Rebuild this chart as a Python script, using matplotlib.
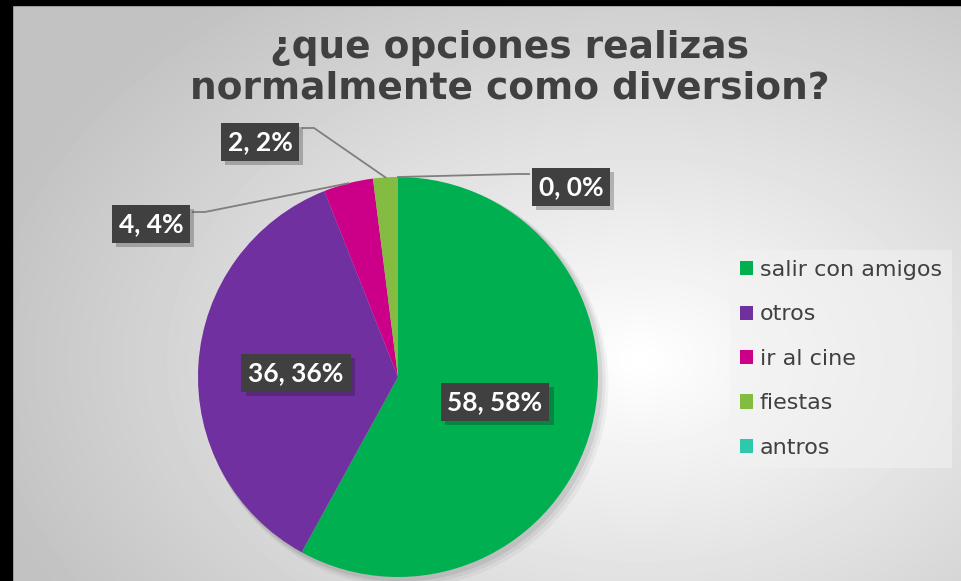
import matplotlib
matplotlib.use('Agg')
import matplotlib.pyplot as plt
import matplotlib.patheffects as pe
import numpy as np

# data
categories = ['salir con amigos', 'otros', 'ir al cine', 'fiestas', 'antros']
values = [58, 36, 4, 2, 0]
percents = [58, 36, 4, 2, 0]
colors = ['#00B050', '#7030A0', '#CC0088', '#84BC41', '#2EC8AA']
title = '¿que opciones realizas\nnormalmente como diversion?'

W, H = 961, 581
fig = plt.figure(figsize=(W / 100, H / 100), dpi=100)

# background: soft radial gradient
bg = fig.add_axes([0, 0, 1, 1])
yy, xx = np.mgrid[0:H, 0:W]
d = np.sqrt(((xx - 640) / 620.0) ** 2 + ((yy - 360) / 420.0) ** 2)
shade = np.clip(1.0 - 0.22 * d, 0.76, 1.0)
bg.imshow(shade, cmap='gray', vmin=0, vmax=1, extent=[0, W, H, 0], aspect='auto')
bg.set_xlim(0, W)
bg.set_ylim(H, 0)
bg.axis('off')
# black frame on top and left
bg.add_patch(plt.Rectangle((0, 0), W, 5, color='black'))
bg.add_patch(plt.Rectangle((0, 0), 12, H, color='black'))

fig.text(510 / W, 1 - 68 / H, title, ha='center', va='center', fontsize=27,
         fontweight='bold', color='#404040', linespacing=1.15,
         family='DejaVu Sans')

# pie: centre (398, 377) px, radius 200 px
cx, cy, r = 398, 377, 200
ax = fig.add_axes([(cx - r) / W, (H - cy - r) / H, 2 * r / W, 2 * r / H])
# soft shadow behind the pie
for k, a in [(7, 0.04), (5, 0.05), (3, 0.07)]:
    ax.add_patch(plt.Circle((k / r, -k / r), 1.0 + k / (2 * r), color='black',
                            alpha=a, lw=0, zorder=0, clip_on=False))
wedges, _ = ax.pie(values, colors=colors, startangle=90, counterclock=False,
                   radius=1.0, wedgeprops=dict(linewidth=0, zorder=1))
ax.set_xlim(-1, 1)
ax.set_ylim(-1, 1)
ax.set_aspect('equal')
ax.axis('off')


def px(x, y):
    return (x - cx) / r, (cy - y) / r


def edge(i):
    w = wedges[i]
    a = np.deg2rad((w.theta1 + w.theta2) / 2)
    return np.cos(a), np.sin(a)


# label boxes (pixel centres)
label_pos = [(495, 402), (296, 373), (151, 224), (260, 142), (571, 187)]
box_style = dict(boxstyle='square,pad=0.26', fc='#404040', ec='none')
for i in range(len(values)):
    x, y = px(*label_pos[i])
    t = ax.text(x, y, f'{values[i]}, {percents[i]}%', ha='center', va='center',
                fontsize=19, fontweight='bold', color='white', family='Lato',
                bbox=box_style, clip_on=False, zorder=5)
    t.get_bbox_patch().set_path_effects(
        [pe.SimplePatchShadow(offset=(3, -3), alpha=0.25), pe.Normal()])

# leader lines
lc = dict(color='#7F7F7F', lw=1.3, clip_on=False, zorder=4)
ex, ey = edge(2)
ax.plot([px(193, 212)[0], px(205, 212)[0], ex], [px(193, 212)[1], px(205, 212)[1], ey], **lc)
ex, ey = edge(3)
ax.plot([px(303, 128)[0], px(314, 128)[0], ex], [px(303, 128)[1], px(314, 128)[1], ey], **lc)
ex, ey = edge(4)
ax.plot([ex, px(517, 174)[0], px(529, 174)[0]], [ey, px(517, 174)[1], px(529, 174)[1]], **lc)

leg = fig.legend(wedges, categories, loc='upper left',
                 bbox_to_anchor=(730 / W, 1 - 250 / H), frameon=True,
                 handlelength=0.6, handleheight=0.6,
                 handletextpad=0.3, labelspacing=1.1, borderpad=0.45,
                 borderaxespad=0, prop=dict(family='DejaVu Sans', size=16))
frame = leg.get_frame()
frame.set_facecolor('#F2F2F2')
frame.set_alpha(0.55)
frame.set_edgecolor('none')
frame.set_boxstyle('square', pad=0)
for txt in leg.get_texts():
    txt.set_color('#404040')

fig.savefig('out.png', dpi=100)
